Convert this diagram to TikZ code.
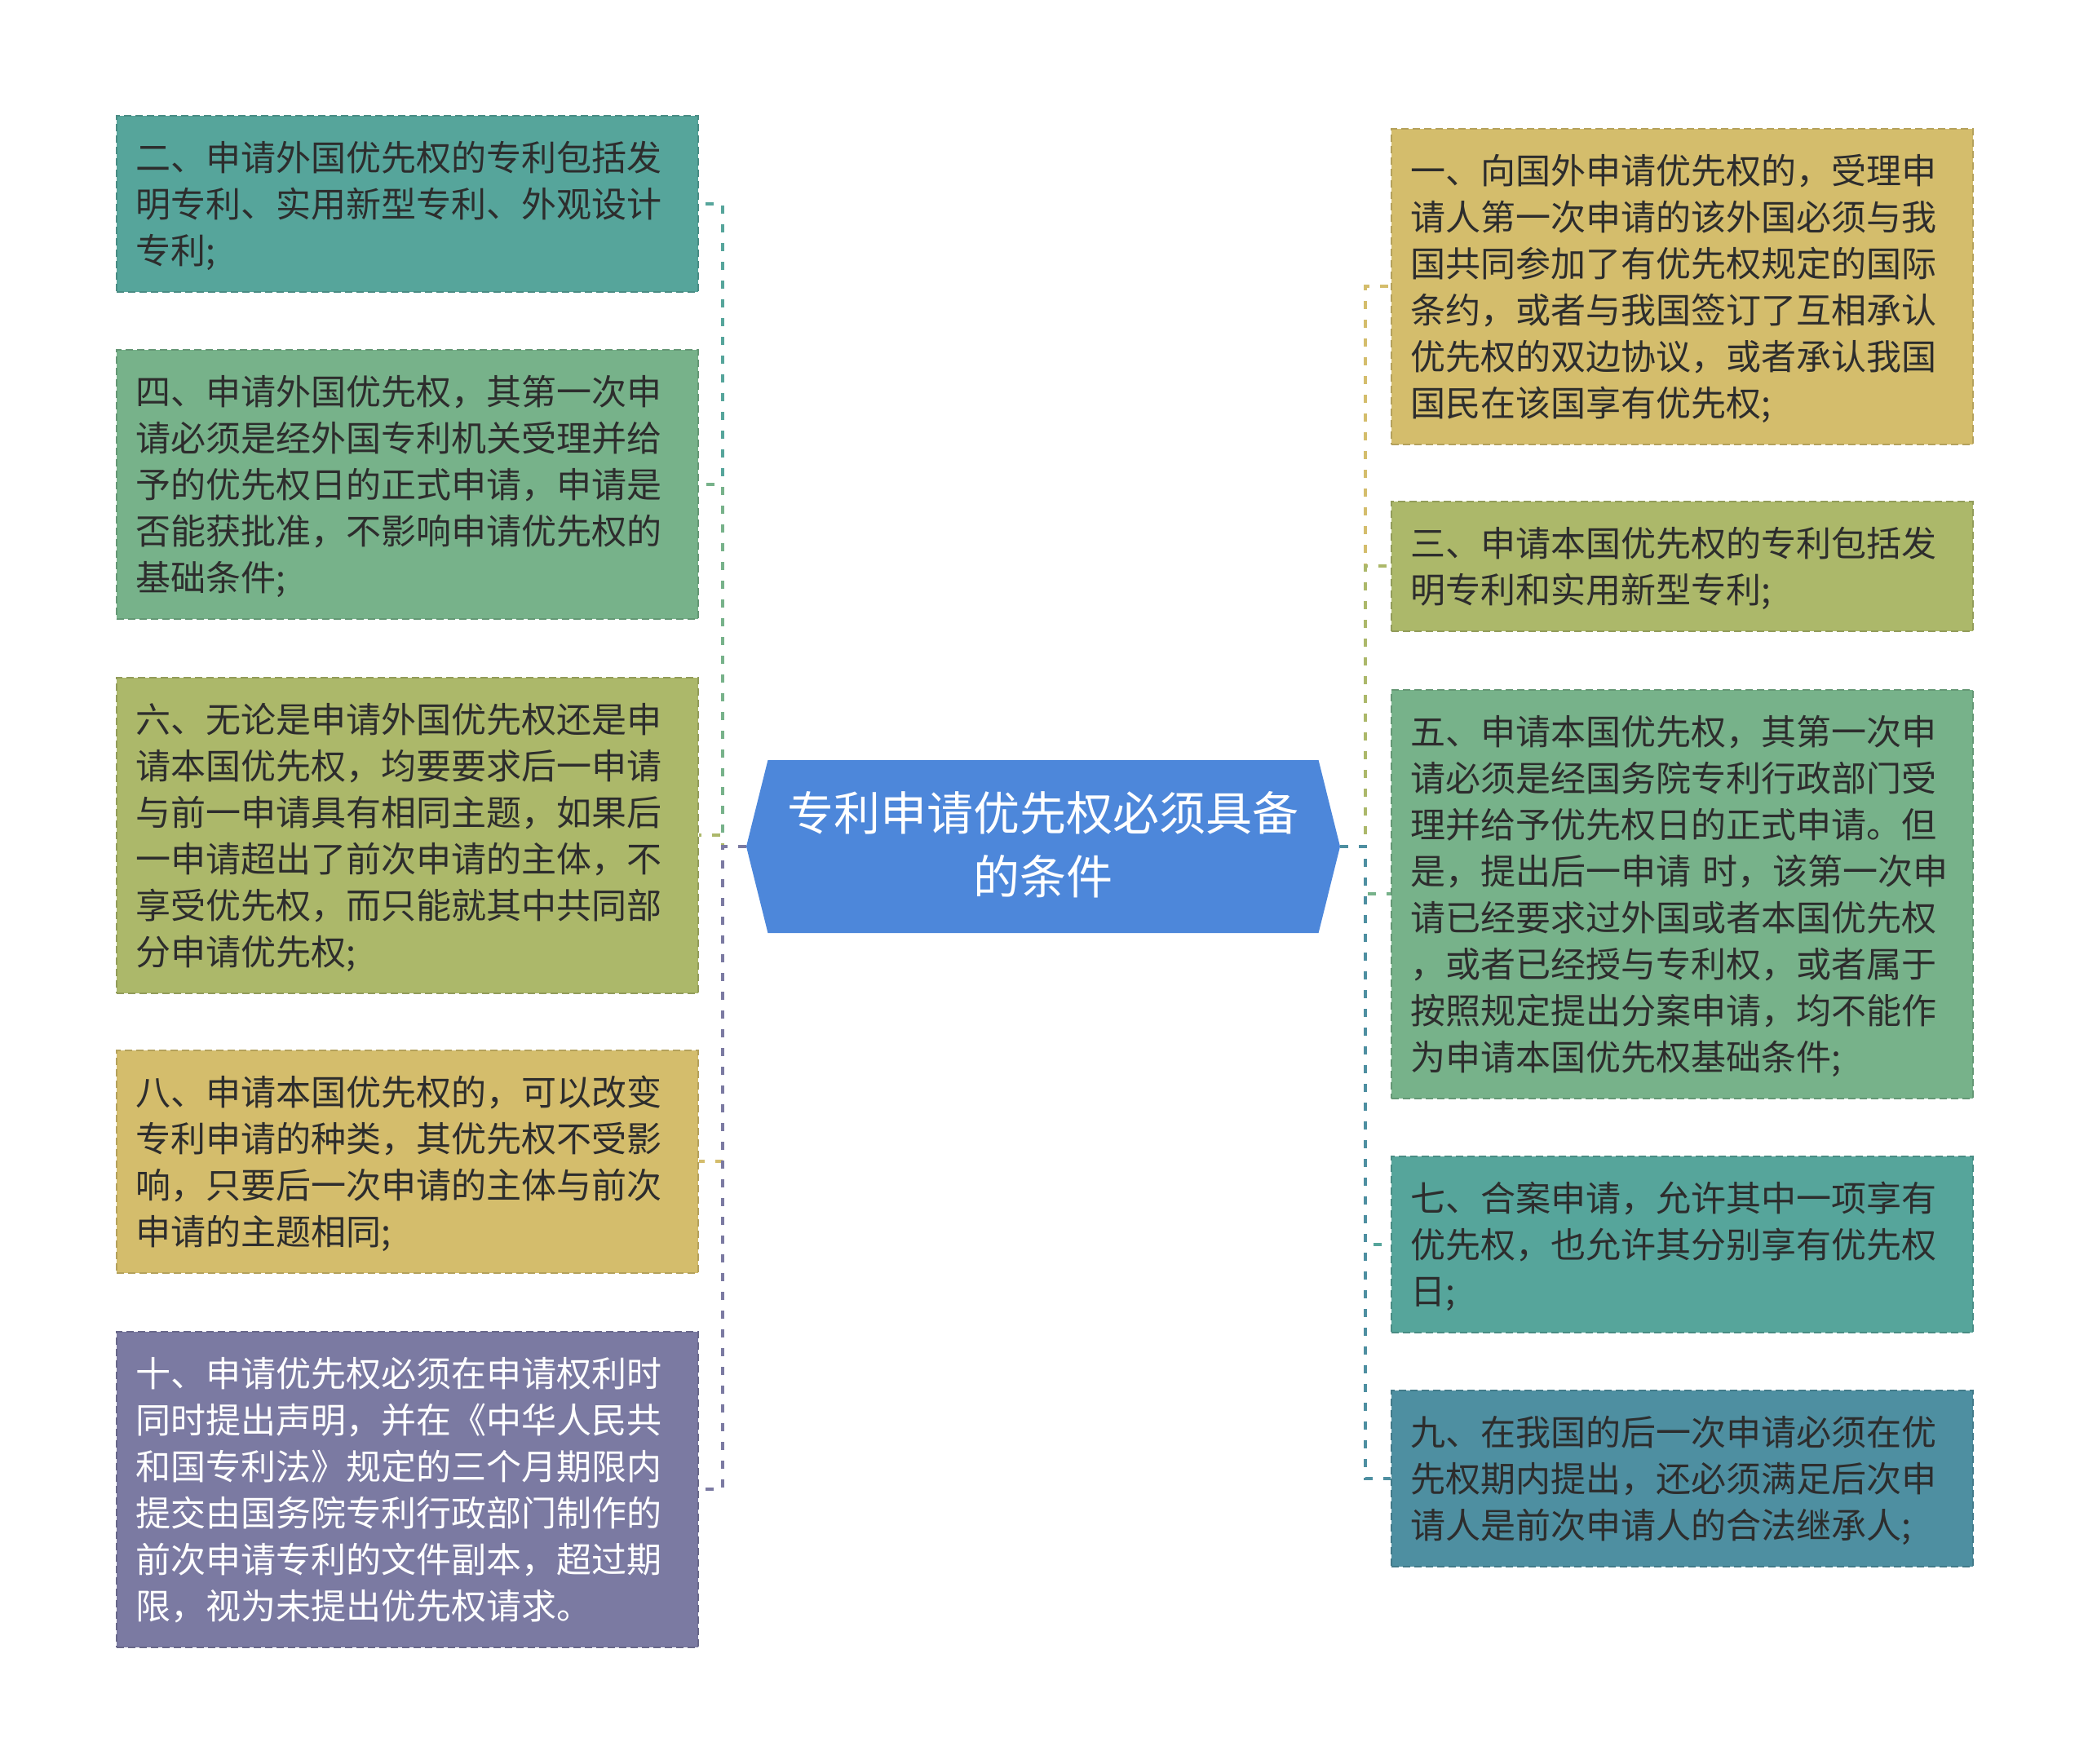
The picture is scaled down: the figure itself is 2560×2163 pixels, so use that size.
\documentclass[tikz,border=0pt]{standalone}
\usepackage{fontspec}
\setmainfont{Noto Sans CJK SC}
\usepackage{tikz}
\usetikzlibrary{shapes.symbols}

\definecolor{cteal}{RGB}{86,165,155}
\definecolor{cgreen}{RGB}{119,178,138}
\definecolor{colive}{RGB}{172,184,106}
\definecolor{cgold}{RGB}{212,189,108}
\definecolor{cpurple}{RGB}{123,122,162}
\definecolor{csteel}{RGB}{78,143,161}
\definecolor{cblue}{RGB}{77,135,218}
\definecolor{ctext}{RGB}{45,45,45}

\newcommand{\tstrut}{\rule[-12pt]{0pt}{57pt}}
\newcommand{\cstrut}{\rule[-9pt]{0pt}{78pt}}

\begin{document}
\begin{tikzpicture}[x=1pt, y=-1pt,
    leaf/.style={anchor=west, fill=#1, draw=#1!85!black, line width=2pt, dash pattern=on 9pt off 5pt,
        text width=667pt, inner xsep=23pt, inner ysep=22.5pt, align=left, text=ctext,
        font=\fontsize{43}{57}\selectfont, execute at begin node=\tstrut, execute at end node=\tstrut},
    link/.style={line width=4pt, dash pattern=on 10pt off 13pt},
  ]

        \useasboundingbox (0,0) rectangle (2560,2163);

        % centre
        \node[signal, signal to=west and east, signal pointer angle=152, fill=cblue, text=white,
              minimum width=728pt, minimum height=212pt, inner sep=0pt, align=center,
              font=\fontsize{57}{78}\selectfont, execute at begin node=\cstrut, execute at end node=\cstrut]
              (center) at (1279,1038) {专利申请优先权必须具备\\的条件};

        \coordinate (lt) at (886,1038);
        \coordinate (rt) at (1674,1038);

        % left column
        \node[leaf=cteal] (two) at (142,250) {二、申请外国优先权的专利包括发\\明专利、实用新型专利、外观设计\\专利;};
        \node[leaf=cgreen] (four) at (142,594) {四、申请外国优先权，其第一次申\\请必须是经外国专利机关受理并给\\予的优先权日的正式申请，申请是\\否能获批准，不影响申请优先权的\\基础条件;};
        \node[leaf=colive] (six) at (142,1024) {六、无论是申请外国优先权还是申\\请本国优先权，均要要求后一申请\\与前一申请具有相同主题，如果后\\一申请超出了前次申请的主体，不\\享受优先权，而只能就其中共同部\\分申请优先权;};
        \node[leaf=cgold] (eight) at (142,1424) {八、申请本国优先权的，可以改变\\专利申请的种类，其优先权不受影\\响，只要后一次申请的主体与前次\\申请的主题相同;};
        \node[leaf=cpurple, text=white] (ten) at (142,1826) {十、申请优先权必须在申请权利时\\同时提出声明，并在《中华人民共\\和国专利法》规定的三个月期限内\\提交由国务院专利行政部门制作的\\前次申请专利的文件副本，超过期\\限，视为未提出优先权请求。};

        % right column
        \node[leaf=cgold] (one) at (1705,351) {一、向国外申请优先权的，受理申\\请人第一次申请的该外国必须与我\\国共同参加了有优先权规定的国际\\条约，或者与我国签订了互相承认\\优先权的双边协议，或者承认我国\\国民在该国享有优先权;};
        \node[leaf=colive] (three) at (1705,694) {三、申请本国优先权的专利包括发\\明专利和实用新型专利;};
        \node[leaf=cgreen] (five) at (1705,1096) {五、申请本国优先权，其第一次申\\请必须是经国务院专利行政部门受\\理并给予优先权日的正式申请。但\\是，提出后一申请 时，该第一次申\\请已经要求过外国或者本国优先权\\，或者已经授与专利权，或者属于\\按照规定提出分案申请，均不能作\\为申请本国优先权基础条件;};
        \node[leaf=cteal] (seven) at (1705,1526) {七、合案申请，允许其中一项享有\\优先权，也允许其分别享有优先权\\日;};
        \node[leaf=csteel] (nine) at (1705,1813) {九、在我国的后一次申请必须在优\\先权期内提出，还必须满足后次申\\请人是前次申请人的合法继承人;};

        % links
        \draw[link, cteal] (center.west) -- (lt) |- (two.east);
        \draw[link, cgreen] (center.west) -- (lt) |- (four.east);
        \draw[link, colive] (center.west) -- (lt) |- (six.east);
        \draw[link, cgold] (center.west) -- (lt) |- (eight.east);
        \draw[link, cpurple] (center.west) -- (lt) |- (ten.east);

        \draw[link, cgold] (center.east) -- (rt) |- (one.west);
        \draw[link, colive] (center.east) -- (rt) |- (three.west);
        \draw[link, cgreen] (center.east) -- (rt) |- (five.west);
        \draw[link, cteal] (center.east) -- (rt) |- (seven.west);
        \draw[link, csteel] (center.east) -- (rt) |- (nine.west);

\end{tikzpicture}
\end{document}
